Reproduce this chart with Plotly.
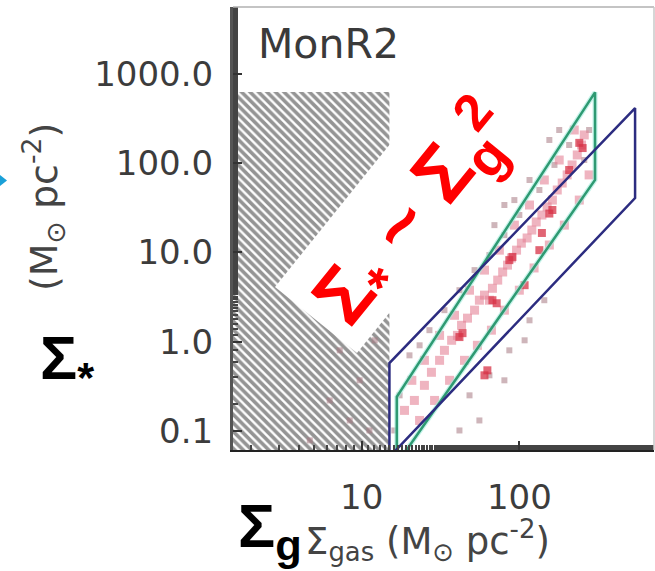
import plotly.graph_objects as go

# ---------------- data ----------------
# Sigma_gas (Msun pc^-2) and Sigma_* (Msun pc^-2) of sources
pink_gas = [21.6, 25.0, 27.7, 31.2, 33.5, 37.2, 40.5, 43.0, 46.9, 52.0, 55.8, 60.1, 64.6, 67.5, 72.9,
            78.4, 84.1, 89.1, 96.0, 103, 112, 120, 128, 139, 150, 162, 174, 187, 201, 216, 233, 248,
            258, 223, 179, 144, 116, 93.0, 74.7, 60.1, 48.3, 38.8, 31.2, 25.0, 20.8, 18.7, 23.3, 29.0,
            36.1, 44.9, 54.2, 66.5, 80.4, 100, 124, 155, 193, 240, 277]
pink_star = [0.221, 0.326, 0.456, 0.621, 0.803, 1.04, 1.18, 1.53, 1.84, 2.26, 2.92, 3.33, 2.92, 3.97, 4.90,
             6.04, 7.21, 8.67, 10.6, 12.7, 14.5, 17.8, 21.9, 26.2, 32.3, 38.5, 49.9, 59.7, 73.6, 95.2, 123, 159,
             206, 234, 108, 64.6, 33.9, 20.2, 10.6, 6.34, 3.78, 1.98, 1.18, 0.621, 0.371, 0.171, 0.132, 0.221,
             0.371, 0.621, 0.914, 1.35, 2.26, 3.78, 6.7, 12.1, 20.2, 38.5, 73.6]

red_gas = [67.5, 71.8, 41.7, 43.6, 60.1, 62.7, 240, 252, 155, 162, 139, 86.4, 90.4, 134, 207, 108]
red_star = [2.92, 2.70, 1.13, 1.25, 0.422, 0.480, 168, 147, 27.2, 29.8, 16.5, 8.20, 8.9, 10.6, 83.5, 4.30]

grey_gas = [48.3, 64.6, 86.4, 116, 80.4, 108, 144, 55.8, 41.7, 16.1, 17.4, 26.9, 33.5, 41.7, 52.0, 64.6,
            80.4, 100, 134, 167, 207, 116, 93.0, 69.5, 80.4, 23.3, 20.1, 179, 277, 258, 155,
            6.27, 8.40, 9.71, 7.26, 11.2, 4.69, 12.1]
grey_star = [0.252, 0.422, 0.803, 1.74, 0.371, 1.04, 2.92, 0.132, 0.102, 0.102, 0.252, 1.35, 2.26, 3.78, 6.34, 9.33,
             15.6, 26.2, 49.9, 95.2, 159, 64.6, 38.5, 20.2, 33.9, 0.914, 0.706, 234, 234, 108, 181,
             0.221, 0.132, 0.371, 0.803, 0.102, 0.079, 1.04]

# contour boxes
green_x = [16.7, 16.7, 302, 302, 16.7]
green_y = [0.043, 0.242, 617, 64.6, 0.043]
blue_x = [15.0, 15.0, 542, 542, 15.0]
blue_y = [0.0515, 0.579, 412, 40.6, 0.0515]

# hatched (incomplete) region
hatch_x = [1.0, 15.0, 15.0, 1.0, 1.0]
hatch_y = [0.01, 0.01, 622, 622, 0.01]

x_tickvals = [10, 100]
x_ticktext = ["10", "100"]
y_tickvals = [0.1, 1, 10, 100, 1000]
y_ticktext = ["0.1", "1.0", "10.0", "100.0", "1000.0"]

# ---------------- layout helpers ----------------
W, H = 655, 571
L, R, T, B = 233, 654, 7, 450


def xp(px):
    return (px - L) / (R - L)


def yp(py):
    return (B - py) / (B - T)


fig = go.Figure()

fig.add_trace(go.Scatter(x=hatch_x, y=hatch_y, mode="lines", fill="toself",
                         line=dict(width=0), fillcolor="rgba(0,0,0,0)",
                         fillpattern=dict(shape="\\", size=6, solidity=0.6,
                                          fgcolor="#2a2a2a", bgcolor="white"),
                         hoverinfo="skip", showlegend=False))

fig.add_trace(go.Scatter(x=grey_gas, y=grey_star, mode="markers",
                         marker=dict(symbol="square", size=6, color="rgba(165,120,130,0.55)"),
                         showlegend=False))
fig.add_trace(go.Scatter(x=pink_gas, y=pink_star, mode="markers",
                         marker=dict(symbol="square", size=9, color="rgba(228,130,150,0.6)"),
                         showlegend=False))
fig.add_trace(go.Scatter(x=red_gas, y=red_star, mode="markers",
                         marker=dict(symbol="square", size=8, color="rgba(215,50,70,0.75)"),
                         showlegend=False))

# halo + lines
fig.add_trace(go.Scatter(x=green_x, y=green_y, mode="lines",
                         line=dict(color="rgba(160,235,220,0.6)", width=5), showlegend=False))
fig.add_trace(go.Scatter(x=green_x, y=green_y, mode="lines",
                         line=dict(color="#2e9a72", width=2.5), showlegend=False))
fig.add_trace(go.Scatter(x=blue_x, y=blue_y, mode="lines",
                         line=dict(color="#2c2c80", width=2.5), showlegend=False))

shapes = []
# white rotated box behind red relation text
box = [(275, 287), (357, 353), (547, 117), (465, 51)]
path = "M " + " L ".join(f"{xp(a):.4f},{yp(b):.4f}" for a, b in box) + " Z"
shapes.append(dict(type="path", xref="paper", yref="paper", path=path,
                   fillcolor="white", line=dict(width=0), layer="above"))
# top / right frame
shapes.append(dict(type="line", xref="paper", yref="paper", x0=0, x1=1, y0=1, y1=1,
                   line=dict(color="#b0b0b0", width=1.5)))
shapes.append(dict(type="line", xref="paper", yref="paper", x0=1, x1=1, y0=0, y1=1,
                   line=dict(color="#c8c8c8", width=1.5)))
# cyan arrow tip at left
tri = [(0, 175), (7, 180.5), (0, 186)]
path2 = "M " + " L ".join(f"{xp(a):.4f},{yp(b):.4f}" for a, b in tri) + " Z"
shapes.append(dict(type="path", xref="paper", yref="paper", path=path2,
                   fillcolor="#1aa0d8", line=dict(width=0)))

ann = []
ann.append(dict(text="MonR2", xref="paper", yref="paper", x=xp(256), y=yp(44),
                xanchor="left", yanchor="middle", showarrow=False,
                font=dict(family="DejaVu Sans", size=41, color="#3a3a3a")))
red_font = dict(family="Liberation Sans, Arial", size=78, color="#ff0000", weight="bold")
ann.append(dict(text="Σ<sub>*</sub> ~ Σ<sub>g</sub>", xref="paper", yref="paper",
                x=xp(407), y=yp(224), xanchor="center", yanchor="middle", textangle=-51,
                showarrow=False, font=red_font))
ann.append(dict(text="2", xref="paper", yref="paper",
                x=xp(472), y=yp(112), xanchor="center", yanchor="middle", textangle=-51,
                showarrow=False, font=dict(family="Liberation Sans, Arial", size=52,
                                           color="#ff0000", weight="bold")))
ann.append(dict(text="(M<sub>⊙</sub> pc<sup>-2</sup>)", xref="paper", yref="paper",
                x=xp(44), y=yp(207), xanchor="center", yanchor="middle", textangle=-90,
                showarrow=False, font=dict(family="DejaVu Sans", size=38, color="#444444")))
ann.append(dict(text="Σ<sub>gas</sub> (M<sub>⊙</sub> pc<sup>-2</sup>)", xref="paper", yref="paper",
                x=xp(303), y=yp(540), xanchor="left", yanchor="middle",
                showarrow=False, font=dict(family="DejaVu Sans", size=37, color="#444444")))
ann.append(dict(text="Σ<sub>*</sub>", xref="paper", yref="paper",
                x=xp(38), y=yp(362), xanchor="left", yanchor="middle",
                showarrow=False, font=dict(family="Liberation Sans, Arial", size=62,
                                           color="black", weight="bold")))
ann.append(dict(text="Σ<sub>g</sub>", xref="paper", yref="paper",
                x=xp(236), y=yp(530), xanchor="left", yanchor="middle",
                showarrow=False,
                font=dict(family="Liberation Sans, Arial", size=62,
                          color="black", weight="bold")))

fig.update_layout(
    width=W, height=H,
    margin=dict(l=L, r=W - R, t=T, b=H - B, pad=0),
    paper_bgcolor="white", plot_bgcolor="white",
    shapes=shapes, annotations=ann,
    xaxis=dict(type="log", range=[0.184, 2.854], tickvals=x_tickvals, ticktext=x_ticktext,
               ticks="inside", ticklen=9, tickwidth=2, tickcolor="#333",
               minor=dict(ticks="inside", ticklen=5, tickwidth=2, tickcolor="#444", showgrid=False),
               showgrid=False, zeroline=False, showline=True, linecolor="#222", linewidth=2,
               ticklabelstandoff=16,
               tickfont=dict(family="DejaVu Sans", size=34, color="#3c3c3c")),
    yaxis=dict(type="log", range=[-1.21, 3.745], tickvals=y_tickvals, ticktext=y_ticktext,
               ticks="inside", ticklen=9, tickwidth=2, tickcolor="#333",
               minor=dict(ticks="inside", ticklen=5, tickwidth=2, tickcolor="#444", showgrid=False),
               showgrid=False, zeroline=False, showline=True, linecolor="#555", linewidth=3,
               ticklabelstandoff=10,
               tickfont=dict(family="DejaVu Sans", size=34, color="#3c3c3c")),
)

fig.write_html("out.html")
